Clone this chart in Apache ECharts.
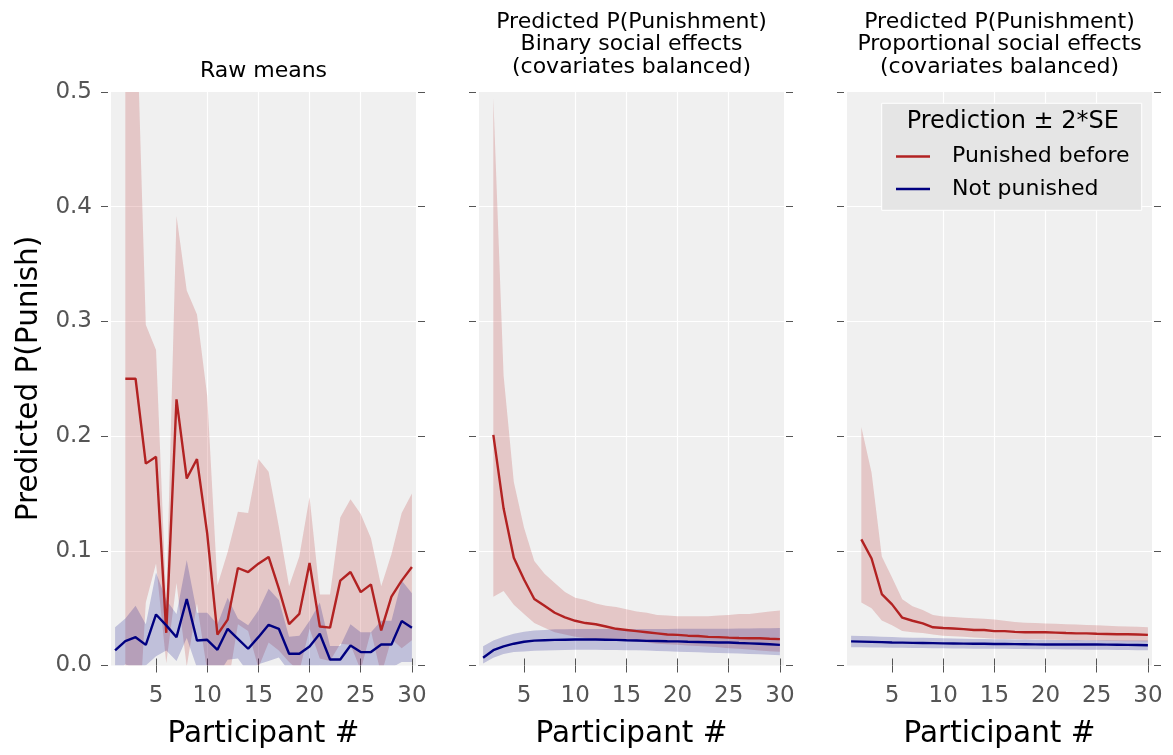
<!DOCTYPE html>
<html>
<head>
<meta charset="utf-8">
<script src="https://cdn.jsdelivr.net/npm/echarts@6/dist/echarts.min.js"></script>
<style>
html,body{margin:0;padding:0;background:#fff;}
#chart{width:1173px;height:755px;}
</style>
</head>
<body>
<div id="chart"></div>
<script>
// ---------- DATA ----------
const participants = [1,2,3,4,5,6,7,8,9,10,11,12,13,14,15,16,17,18,19,20,21,22,23,24,25,26,27,28,29,30];
const participantsRed = [2,3,4,5,6,7,8,9,10,11,12,13,14,15,16,17,18,19,20,21,22,23,24,25,26,27,28,29,30];
const xTickValues = [5,10,15,20,25,30];
const yTickValues = [0.0,0.1,0.2,0.3,0.4,0.5];
const yTickLabels = ['0.0','0.1','0.2','0.3','0.4','0.5'];
const panelTitles = [['Raw means'], ['Predicted P(Punishment)','Binary social effects','(covariates balanced)'], ['Predicted P(Punishment)','Proportional social effects','(covariates balanced)']];
const seriesNames = ['Punished before','Not punished'];

// Panel 1: raw means (red x=2..30, blue x=1..30)
const rawRedMean  = [0.250,0.250,0.176,0.182,0.0285,0.232,0.163,0.180,0.115,0.027,0.040,0.085,0.0815,0.0888,0.0946,0.067,0.036,0.045,0.0894,0.034,0.033,0.074,0.0815,0.064,0.0707,0.0306,0.060,0.074,0.0859];
const rawRedUpper = [0.60,0.60,0.297,0.275,0.055,0.392,0.327,0.306,0.235,0.070,0.099,0.134,0.133,0.180,0.169,0.121,0.069,0.095,0.147,0.062,0.062,0.129,0.145,0.132,0.111,0.069,0.097,0.133,0.150];
const rawRedLower = [-0.10,-0.10,0.055,0.089,0.002,0.072,-0.001,0.054,-0.005,-0.016,-0.019,0.036,0.030,-0.002,0.020,0.013,0.003,-0.005,0.032,0.006,0.004,0.019,0.018,-0.004,0.030,-0.008,0.023,0.015,0.022];
const rawBlueMean  = [0.0131,0.0212,0.0247,0.018,0.0445,0.035,0.0247,0.058,0.0218,0.0224,0.0137,0.032,0.0233,0.0146,0.0247,0.0355,0.032,0.0102,0.0102,0.0166,0.0277,0.0052,0.0052,0.0175,0.0117,0.0117,0.0183,0.0183,0.0387,0.033];
const rawBlueUpper = [0.0334,0.041,0.052,0.036,0.081,0.057,0.045,0.092,0.046,0.046,0.036,0.059,0.041,0.035,0.048,0.067,0.057,0.025,0.026,0.039,0.055,0.017,0.017,0.036,0.029,0.029,0.039,0.039,0.074,0.063];
const rawBlueLower = [-0.007,0.001,-0.003,0.000,0.008,0.013,0.004,0.024,-0.002,-0.001,-0.009,0.005,0.006,-0.006,0.001,0.004,0.007,-0.005,-0.005,-0.006,0.000,-0.007,-0.007,-0.001,-0.006,-0.006,-0.002,-0.002,0.003,0.003];

// Panel 2: binary social effects
const binRedMean  = [0.201,0.137,0.094,0.075,0.058,0.052,0.046,0.042,0.039,0.037,0.036,0.034,0.032,0.031,0.030,0.029,0.028,0.027,0.0267,0.026,0.0257,0.025,0.0247,0.0243,0.024,0.0238,0.0237,0.0233,0.023];
const binRedUpper = [0.495,0.253,0.160,0.120,0.091,0.080,0.072,0.064,0.059,0.057,0.054,0.052,0.051,0.049,0.047,0.046,0.044,0.0435,0.043,0.043,0.043,0.043,0.0435,0.044,0.045,0.045,0.046,0.047,0.048];
const binRedLower = [0.060,0.065,0.053,0.045,0.037,0.033,0.029,0.027,0.025,0.024,0.023,0.0225,0.022,0.0215,0.021,0.020,0.019,0.0185,0.018,0.0175,0.017,0.0165,0.016,0.015,0.0145,0.014,0.013,0.0125,0.012];
const binBlueMean  = [0.0067,0.0133,0.0167,0.019,0.0207,0.0217,0.022,0.0223,0.0225,0.0227,0.0227,0.0227,0.0225,0.0223,0.022,0.0218,0.0215,0.0213,0.0211,0.021,0.0207,0.0205,0.0203,0.0201,0.020,0.0196,0.0193,0.0189,0.0185,0.018];
const binBlueUpper = [0.0167,0.0217,0.025,0.0277,0.0295,0.0305,0.031,0.0315,0.0317,0.0318,0.0318,0.0318,0.0318,0.0318,0.0318,0.0318,0.0318,0.0319,0.0319,0.032,0.032,0.032,0.032,0.032,0.0321,0.0322,0.0323,0.0324,0.0325,0.0327];
const binBlueLower = [0.0017,0.0067,0.010,0.0117,0.0123,0.0128,0.0131,0.0133,0.0135,0.0137,0.0137,0.0137,0.0136,0.0135,0.0134,0.0132,0.013,0.0127,0.0124,0.012,0.0118,0.0115,0.0112,0.011,0.0107,0.0104,0.010,0.0097,0.0093,0.009];

// Panel 3: proportional social effects
const propRedMean  = [0.110,0.0933,0.0623,0.0533,0.0417,0.039,0.0367,0.0333,0.0327,0.0323,0.0317,0.031,0.031,0.030,0.030,0.0293,0.029,0.029,0.029,0.0287,0.0283,0.028,0.028,0.0277,0.0275,0.0273,0.0273,0.027,0.0267];
const propRedUpper = [0.208,0.168,0.095,0.0767,0.0577,0.0517,0.0483,0.044,0.0427,0.0422,0.0417,0.0412,0.0407,0.040,0.039,0.038,0.0373,0.037,0.0367,0.0364,0.036,0.0357,0.0354,0.035,0.0347,0.0343,0.034,0.0337,0.0333];
const propRedLower = [0.055,0.050,0.0393,0.035,0.030,0.029,0.0283,0.027,0.026,0.0255,0.025,0.0245,0.024,0.0233,0.0232,0.023,0.0228,0.0228,0.0227,0.0225,0.0223,0.0221,0.022,0.0217,0.0215,0.0214,0.0212,0.0211,0.021];
const propBlueMean  = [0.0210,0.0208,0.0206,0.0204,0.0200,0.0199,0.0197,0.0196,0.0195,0.0193,0.0192,0.0191,0.0190,0.0189,0.0187,0.0187,0.0186,0.0185,0.0184,0.0183,0.0183,0.0183,0.0183,0.0183,0.0183,0.0182,0.0181,0.0180,0.0179,0.0177];
const propBlueUpper = [0.0260,0.0257,0.0254,0.0251,0.0248,0.0245,0.0243,0.0241,0.0239,0.0237,0.0235,0.0233,0.0232,0.0230,0.0229,0.0228,0.0227,0.0226,0.0225,0.0224,0.0223,0.0222,0.0222,0.0221,0.0220,0.0220,0.0219,0.0218,0.0218,0.0217];
const propBlueLower = [0.0160,0.0159,0.0158,0.0157,0.0155,0.0154,0.0153,0.0152,0.0151,0.0150,0.0149,0.0148,0.0147,0.0147,0.0146,0.0145,0.0144,0.0143,0.0142,0.0142,0.0141,0.0140,0.0139,0.0138,0.0137,0.0137,0.0136,0.0135,0.0134,0.0133];

// ---------- STYLE / LAYOUT ----------
const FONT = '"DejaVu Sans", "Liberation Sans", sans-serif';
const RED = '#b22222', BLUE = '#000080';
const RED_BAND = 'rgba(178,34,34,0.2)', BLUE_BAND = 'rgba(0,0,128,0.2)';
const GRID_LEFTS = [111, 479, 847];
const GRID_TOP = 92, GRID_H = 573.5, GRID_W = 305;
const TICK_COLOR = '#555';
const LINE_W = 2.4;

const panels = [
  {red:[rawRedMean, rawRedLower, rawRedUpper], blue:[rawBlueMean, rawBlueLower, rawBlueUpper]},
  {red:[binRedMean, binRedLower, binRedUpper], blue:[binBlueMean, binBlueLower, binBlueUpper]},
  {red:[propRedMean, propRedLower, propRedUpper], blue:[propBlueMean, propBlueLower, propBlueUpper]}
];

function pairs(xs, ys){ return xs.map((x,i)=>[x, ys[i]]); }

// band drawn as one polygon (upper edge forward, lower edge back) through the axis scales
function bandSeries(xi, yi, xs, lo, hi, color){
  return {
    type:'custom', xAxisIndex:xi, yAxisIndex:yi, silent:true, clip:true, z:2,
    data: xs.map((x,i)=>[x, lo[i], hi[i]]),
    encode:{x:0, y:[1,2]},
    renderItem:(params, api) => {
      if (params.dataIndex !== 0) return null;
      const pts = [];
      for (let i=0;i<xs.length;i++) pts.push(api.coord([xs[i], hi[i]]));
      for (let i=xs.length-1;i>=0;i--) pts.push(api.coord([xs[i], lo[i]]));
      const cs = params.coordSys;
      return {type:'polygon', shape:{points:pts}, style:{fill:color, stroke:null},
        clipPath:{type:'rect', shape:{x:cs.x, y:cs.y, width:cs.width, height:cs.height}}};
    }
  };
}

const grids = [], xAxes = [], yAxes = [], series = [];
GRID_LEFTS.forEach((left, g) => {
  grids.push({left:left, top:GRID_TOP, width:GRID_W, height:GRID_H, show:true, backgroundColor:'#f0f0f0', borderWidth:0, containLabel:false});
  xAxes.push({
    gridIndex:g, type:'value', min:0.6, max:30.4, position:'bottom', offset:2.5,
    axisLine:{show:false},
    axisTick:{show:true, length:7, customValues:xTickValues, lineStyle:{color:TICK_COLOR, width:1}},
    axisLabel:{show:true, customValues:xTickValues, margin:17, fontSize:23, fontFamily:FONT, color:TICK_COLOR},
    splitLine:{show:true, showMinLine:false, showMaxLine:false, lineStyle:{color:'#ffffff', width:1.2}}
  });
  xAxes.push({
    gridIndex:g, type:'value', min:0.6, max:30.4, position:'top', offset:2,
    axisLine:{show:false},
    axisTick:{show:true, length:7, customValues:xTickValues, lineStyle:{color:TICK_COLOR, width:1}},
    axisLabel:{show:false}, splitLine:{show:false}
  });
  yAxes.push({
    gridIndex:g, type:'value', min:0, max:0.5, interval:0.1, position:'left', offset:3,
    axisLine:{show:false},
    axisTick:{show:true, length:7, lineStyle:{color:TICK_COLOR, width:1}},
    axisLabel:{show:g===0, margin:16, fontSize:23, fontFamily:FONT, color:TICK_COLOR,
      formatter:(v)=>{ const i = yTickValues.findIndex(t=>Math.abs(t-v)<1e-9); return i>=0 ? yTickLabels[i] : ''; }},
    splitLine:{show:true, showMinLine:false, showMaxLine:false, lineStyle:{color:'#ffffff', width:1.2}}
  });
  yAxes.push({
    gridIndex:g, type:'value', min:0, max:0.5, interval:0.1, position:'right', offset:2,
    axisLine:{show:false},
    axisTick:{show:true, length:7, lineStyle:{color:TICK_COLOR, width:1}},
    axisLabel:{show:false}, splitLine:{show:false}
  });

  const p = panels[g];
  const xi = 2*g, yi = 2*g;
  series.push(bandSeries(xi, yi, participantsRed, p.red[1], p.red[2], RED_BAND));
  series.push(bandSeries(xi, yi, participants, p.blue[1], p.blue[2], BLUE_BAND));
  series.push({type:'line', name:seriesNames[0], xAxisIndex:xi, yAxisIndex:yi, data:pairs(participantsRed, p.red[0]),
    symbol:'none', showSymbol:false, z:3, lineStyle:{color:RED, width:LINE_W}, itemStyle:{color:RED}});
  series.push({type:'line', name:seriesNames[1], xAxisIndex:xi, yAxisIndex:yi, data:pairs(participants, p.blue[0]),
    symbol:'none', showSymbol:false, z:4, lineStyle:{color:BLUE, width:LINE_W}, itemStyle:{color:BLUE}});
});

// ---------- TEXT ----------
const graphics = [];
function txt(text, x, y, size, opts){
  return Object.assign({type:'text', x:x, y:y, z:30,
    style:{text:text, fontSize:size, fontFamily:FONT, fill:'#000', align:'center', verticalAlign:'middle'}}, opts||{});
}
graphics.push(txt(panelTitles[0][0], GRID_LEFTS[0]+GRID_W/2, 71.3, 22));
[1,2].forEach(g => {
  const ys = [22, 44.5, 67];
  panelTitles[g].forEach((t,i)=> graphics.push(txt(t, GRID_LEFTS[g]+GRID_W/2, ys[i], 22)));
});
GRID_LEFTS.forEach(l => graphics.push(txt('Participant #', l+GRID_W/2, 734, 29.5)));
graphics.push(txt('Predicted P(Punish)', 29, 378.5, 29.5, {rotation:Math.PI/2}));
graphics.push({type:'rect', z:5, shape:{x:881.7, y:103.3, width:260, height:107},
  style:{fill:'#e5e5e5', stroke:'#ffffff', lineWidth:1}});
graphics.push(txt('Prediction \u00b1 2*SE', 1012.8, 122, 24));

const chart = echarts.init(document.getElementById('chart'), null, {renderer:'canvas'});
chart.setOption({
  animation:false,
  backgroundColor:'#ffffff',
  grid:grids, xAxis:xAxes, yAxis:yAxes, series:series,
  legend:{show:true, data:seriesNames, orient:'vertical', left:896, top:143.5, padding:0,
    itemGap:6.5, itemWidth:34, itemHeight:2.5, icon:'rect', selectedMode:false, z:20,
    textStyle:{fontSize:22, fontFamily:FONT, color:'#000', lineHeight:26, padding:[0,0,0,17]}},
  graphic:{elements:graphics}
});
</script>
</body>
</html>
